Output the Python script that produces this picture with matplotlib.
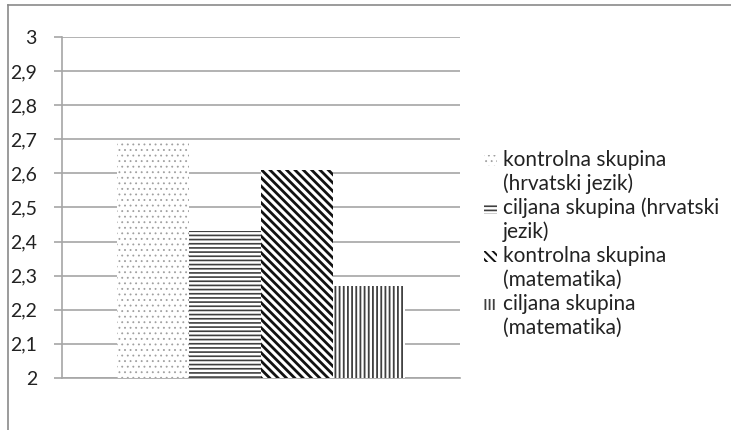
import matplotlib
matplotlib.use("Agg")
import matplotlib.pyplot as plt
from matplotlib.patches import Rectangle
from matplotlib.lines import Line2D
import numpy as np

# ── Data ───────────────────────────────────────────────────────────────────────
labels  = ["kontrolna skupina\n(hrvatski jezik)",
           "ciljana skupina (hrvatski\njezik)",
           "kontrolna skupina\n(matematika)",
           "ciljana skupina\n(matematika)"]
values  = [2.69, 2.43, 2.61, 2.27]
hatches = ["...", "----", "\\\\\\\\", "||||"]
hcolors = ["#a0a0a0", "#404040", "#111111", "#404040"]
hwidths = [0.6, 1.2, 2.0, 1.3]
yticks  = [2.0, 2.1, 2.2, 2.3, 2.4, 2.5, 2.6, 2.7, 2.8, 2.9, 3.0]

plt.rcParams["font.family"] = ["Lato", "DejaVu Sans"]
plt.rcParams["hatch.linewidth"] = 1.2

W, H = 731, 430
fig = plt.figure(figsize=(W / 100, H / 100), dpi=100)
ax = fig.add_axes([0.0848, 0.121, 0.544, 0.793])

w = 0.181
x = (np.arange(len(values)) - 1.5) * w
for xi, v, h, c, lw in zip(x, values, hatches, hcolors, hwidths):
    bars = ax.bar(xi, v - 2.0, w, bottom=2.0, color="white", edgecolor=c,
                  hatch=h, linewidth=0, zorder=3)
    for b in bars:
        if hasattr(b, "set_hatch_linewidth"):
            b.set_hatch_linewidth(lw)

ax.set_xlim(-0.5, 0.5)
ax.set_ylim(2.0, 3.0)
ax.set_yticks(yticks)
ax.set_yticklabels([f"{t:g}".replace(".", ",") for t in yticks], fontsize=14)
ax.set_xticks([])
ax.yaxis.grid(True, color="#a6a6a6", lw=1.2, zorder=0)
for side in ("top", "right"):
    ax.spines[side].set_visible(False)
for side in ("left", "bottom"):
    ax.spines[side].set_color("#a6a6a6")
    ax.spines[side].set_linewidth(1.2)
ax.tick_params(axis="y", length=6, width=1.2, color="#a6a6a6", pad=12, labelcolor="#222222")

# ── Legend (hand-placed so the swatch sits on the first line) ──────────────────
y0, dy = 160, 24          # first line centre and line step, pixels from top
row = 0
for lab, h, c, lw in zip(labels, hatches, hcolors, hwidths):
    yc = y0 + row * dy
    r = Rectangle((484 / W, 1 - (yc + 6) / H), 13 / W, 11 / H, transform=fig.transFigure,
                  facecolor="white", edgecolor=c, hatch=h, linewidth=0)
    if hasattr(r, "set_hatch_linewidth"):
        r.set_hatch_linewidth(min(lw, 1.4))
    fig.add_artist(r)
    for line in lab.split("\n"):
        fig.text(503 / W, 1 - (y0 + row * dy) / H, line, fontsize=15,
                 color="#222222", va="center")
        row += 1

# outer frame (left and top only, as cropped)
fig.add_artist(Line2D([0.0103, 0.0103], [0, 0.988], transform=fig.transFigure,
                      color="#8a8a8a", lw=1.2))
fig.add_artist(Line2D([0.0103, 1.0], [0.988, 0.988], transform=fig.transFigure,
                      color="#8a8a8a", lw=1.2))

fig.savefig("out.png", dpi=100)
